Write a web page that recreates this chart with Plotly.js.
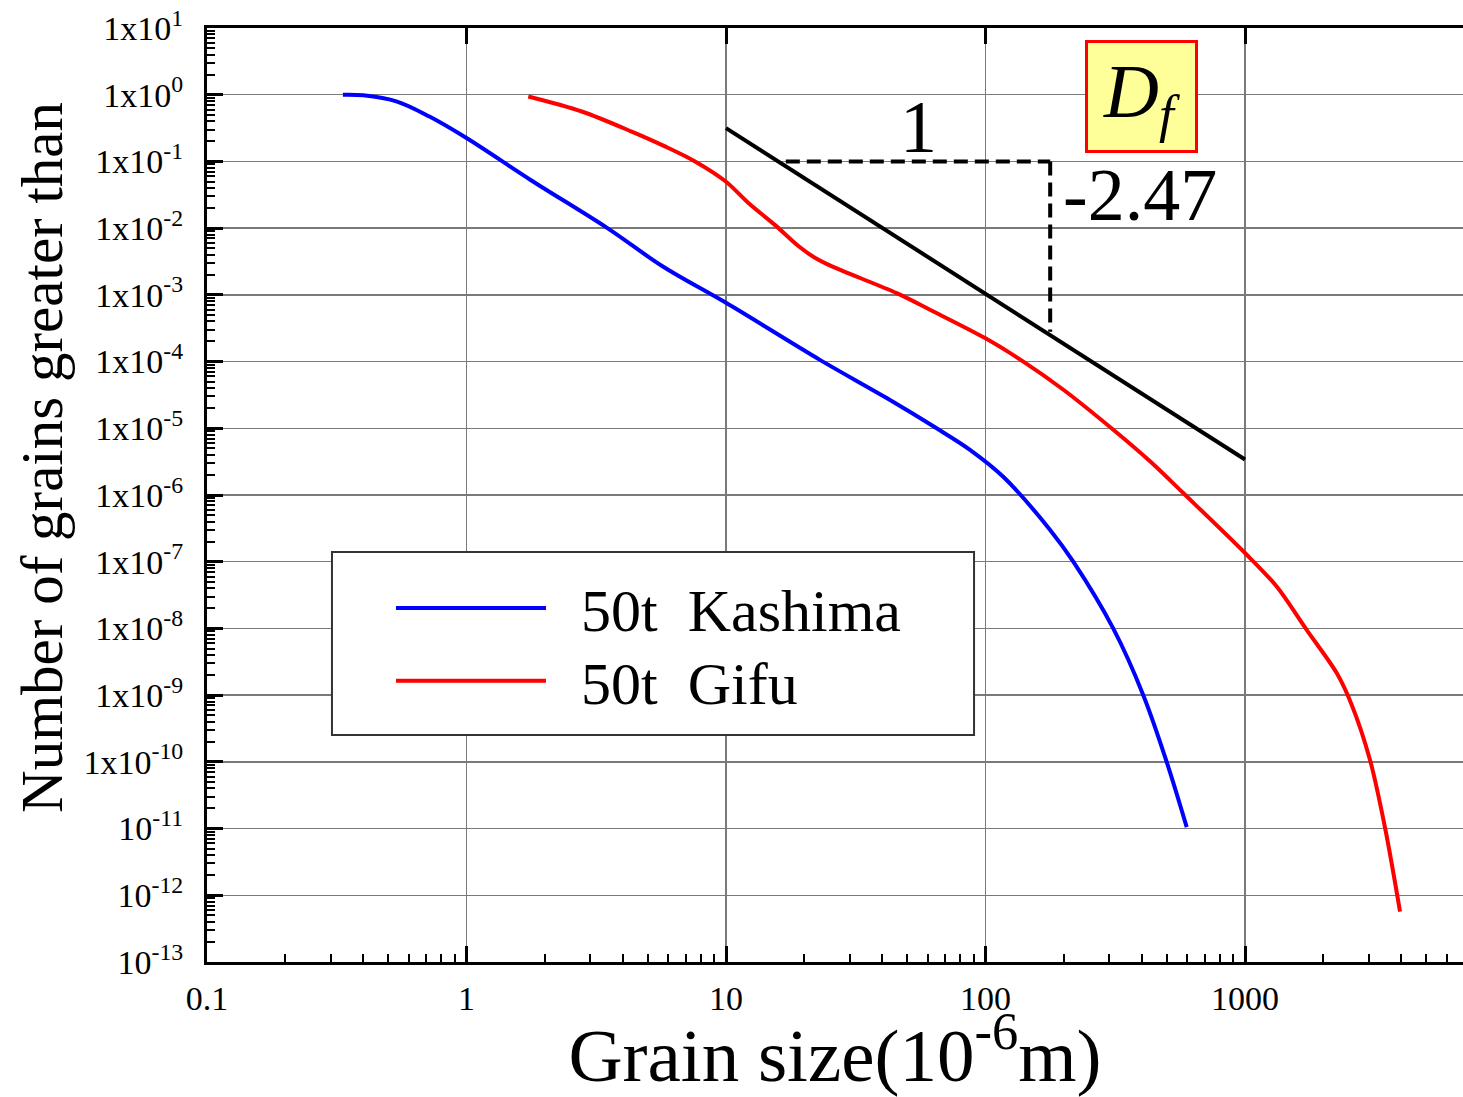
<!DOCTYPE html>
<html>
<head>
<meta charset="utf-8">
<script src="https://cdn.plot.ly/plotly-3.0.1.min.js"></script>
<style>html,body{margin:0;padding:0;overflow:hidden;background:#fff;}</style>
</head>
<body>
<div id="chart" style="width:1463px;height:1097px;"></div>
<script>
// ---- data ----
const kashimaX = [0.334, 0.40, 0.54, 0.72, 1.0, 1.76, 3.48, 5.71, 10, 23.0, 41.6, 64.8, 87.1, 116.8, 177.4, 217.9, 310.5, 405.5, 499, 596];
const kashimaY = [1.0, 0.98, 0.79, 0.47, 0.224, 0.0532, 0.0101, 0.00266, 7.6e-4, 1.06e-4, 2.84e-5, 1.0e-5, 4.76e-6, 1.89e-6, 3.0e-7, 1.0e-7, 1.0e-8, 1.0e-9, 1.0e-10, 1.05e-11];

const gifuX = [1.73, 2.78, 4.33, 5.82, 7.6, 9.98, 12.2, 15.5, 19.0, 22.0, 25.6, 45.5, 61.1, 99.6, 139.9, 199.6, 310.8, 430.5, 578, 1000, 1324, 1728, 2256, 2576, 3031, 3466, 3957];
const gifuY = [0.94, 0.56, 0.28, 0.168, 0.1, 0.05, 0.0238, 0.011, 0.0054, 0.0036, 0.00267, 1.06e-3, 5.98e-4, 2.25e-4, 1.0e-4, 3.78e-5, 9.5e-6, 3.2e-6, 1.07e-6, 1.35e-7, 4.25e-8, 9.5e-9, 2.14e-9, 7.2e-10, 1.07e-10, 1.02e-11, 5.7e-13];

const slopeX = [10, 1000];
const slopeY = [0.316, 3.4e-6];
const triHX = [17, 177.5];
const triHY = [0.1, 0.1];
const triVX = [177.5, 177.5];
const triVY = [0.1, 2.8e-4];

const xTickVals = [0.1, 1, 10, 100, 1000];
const xTickText = ['0.1', '1', '10', '100', '1000'];
const yTickVals = [1e1, 1e0, 1e-1, 1e-2, 1e-3, 1e-4, 1e-5, 1e-6, 1e-7, 1e-8, 1e-9, 1e-10, 1e-11, 1e-12, 1e-13];
const yTickText = ['1x10<sup>1</sup>', '1x10<sup>0</sup>', '1x10<sup>-1</sup>', '1x10<sup>-2</sup>', '1x10<sup>-3</sup>',
  '1x10<sup>-4</sup>', '1x10<sup>-5</sup>', '1x10<sup>-6</sup>', '1x10<sup>-7</sup>', '1x10<sup>-8</sup>',
  '1x10<sup>-9</sup>', '1x10<sup>-10</sup>', '10<sup>-11</sup>', '10<sup>-12</sup>', '10<sup>-13</sup>'];

const seriesNames = ['50t\u00a0\u00a0Kashima', '50t\u00a0\u00a0Gifu'];
const xTitle = 'Grain size(10<sup>-6</sup>m)';
const yTitle = 'Number of grains greater than';
const slopeLabel = '-2.47';
const runLabel = '1';
const dfLabel = '<i>D<sub>f</sub></i>';

const SERIF = 'Liberation Serif, Times New Roman, serif';
const PAD = '\u00a0\u00a0';

const traces = [
  {x: kashimaX, y: kashimaY, mode: 'lines', name: PAD + seriesNames[0], legend: 'legend',
   line: {color: '#0000ff', width: 4, shape: 'spline', smoothing: 1}},
  {x: gifuX, y: gifuY, mode: 'lines', name: PAD + seriesNames[1], legend: 'legend2',
   line: {color: '#ff0000', width: 4, shape: 'spline', smoothing: 0.9}},
  {x: slopeX, y: slopeY, mode: 'lines', showlegend: false, line: {color: '#000', width: 4}},
  {x: triHX, y: triHY, mode: 'lines', showlegend: false, line: {color: '#000', width: 4, dash: '14px,7px'}},
  {x: triVX, y: triVY, mode: 'lines', showlegend: false, line: {color: '#000', width: 4, dash: '14px,7px'}},
  // carrier for the top (mirrored) axis that shows only major ticks
  {x: kashimaX, y: kashimaY, xaxis: 'x2', yaxis: 'y', mode: 'lines', showlegend: false, hoverinfo: 'skip',
   line: {color: 'rgba(0,0,0,0)', width: 0}}
];

const legendCommon = {
  xanchor: 'left', yanchor: 'middle',
  bgcolor: 'rgba(0,0,0,0)', borderwidth: 0,
  font: {family: SERIF, size: 60, color: '#000'},
  itemwidth: 150
};

const layout = {
  width: 1463, height: 1097,
  margin: {l: 207, r: 0, t: 28, b: 135},
  paper_bgcolor: '#fff', plot_bgcolor: '#fff',
  font: {family: SERIF, color: '#000'},
  showlegend: true,
  xaxis: {
    type: 'log', range: [-1, 3.84], autorange: false,
    showline: true, linecolor: '#000', linewidth: 3, mirror: true,
    ticks: 'inside', ticklen: 16, tickwidth: 3, tickcolor: '#000',
    tickmode: 'array', tickvals: xTickVals, ticktext: xTickText,
    tickfont: {family: SERIF, size: 34, color: '#000'},
    ticklabelstandoff: 4,
    showgrid: true, gridcolor: '#7a7a7a', gridwidth: 1.5, zeroline: false,
    minor: {ticks: 'inside', ticklen: 8, tickwidth: 2, tickcolor: '#000', dtick: 'D1', showgrid: false},
    title: {text: xTitle, font: {family: SERIF, size: 75, color: '#000'}, standoff: 8}
  },
  xaxis2: {
    type: 'log', range: [-1, 3.84], autorange: false, overlaying: 'x', side: 'top', anchor: 'y',
    showline: false, ticks: 'inside', ticklen: 16, tickwidth: 3, tickcolor: '#000',
    tickmode: 'array', tickvals: xTickVals, showticklabels: false,
    showgrid: false, zeroline: false
  },
  yaxis: {
    type: 'log', range: [-13, 1], autorange: false,
    showline: true, linecolor: '#000', linewidth: 3, mirror: false,
    ticks: 'inside', ticklen: 16, tickwidth: 3, tickcolor: '#000',
    tickmode: 'array', tickvals: yTickVals, ticktext: yTickText,
    tickfont: {family: SERIF, size: 34, color: '#000'},
    ticklabelstandoff: 14,
    showgrid: true, gridcolor: '#7a7a7a', gridwidth: 1.5, zeroline: false,
    minor: {ticks: 'inside', ticklen: 8, tickwidth: 2, tickcolor: '#000', dtick: 'D1', showgrid: false}
  },
  legend: Object.assign({x: 0.1465, y: 0.379}, legendCommon),
  legend2: Object.assign({x: 0.1465, y: 0.301}, legendCommon),
  shapes: [
    {type: 'rect', xref: 'paper', yref: 'paper', x0: 0.0995, x1: 0.6107, y0: 0.243, y1: 0.439,
     line: {color: '#333', width: 2}, fillcolor: '#fff', layer: 'above'}
  ],
  annotations: [
    {x: -0.1314, y: 0.5407, xref: 'paper', yref: 'paper', text: yTitle, textangle: -90, showarrow: false,
     xanchor: 'center', yanchor: 'middle', font: {family: SERIF, size: 59, color: '#000'}},
    {x: 1.74, y: -0.48, xref: 'x', yref: 'y', text: runLabel, showarrow: false, font: {family: SERIF, size: 74, color: '#000'}},
    {x: 2.595, y: -1.5, xref: 'x', yref: 'y', text: slopeLabel, showarrow: false, font: {family: SERIF, size: 74, color: '#000'}},
    {x: 2.603, y: -0.03, xref: 'x', yref: 'y', text: dfLabel, showarrow: false,
     font: {family: SERIF, size: 76, color: '#000'}, bgcolor: '#ffff99', bordercolor: '#ff0000', borderwidth: 3, borderpad: 1,
     width: 105, height: 105}
  ]
};

Plotly.newPlot('chart', traces, layout, {displayModeBar: false, staticPlot: true});
</script>
</body>
</html>
